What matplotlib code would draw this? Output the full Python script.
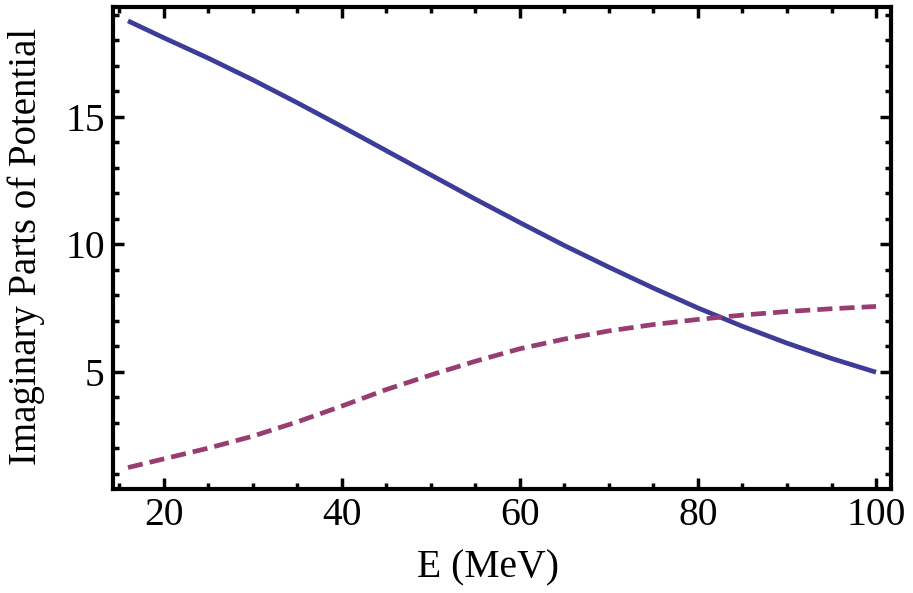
import numpy as np
import matplotlib.pyplot as plt
from matplotlib.ticker import MultipleLocator

plt.rcParams['font.family'] = ['Liberation Serif', 'DejaVu Serif']

# energies (MeV) and imaginary parts
energy = [16, 20, 25, 30, 35, 40, 45, 50, 55, 60, 65, 70, 75, 80, 85, 90, 95, 100]
w_volume = [18.76, 18.1, 17.3, 16.45, 15.55, 14.62, 13.67, 12.72, 11.77, 10.85,
            9.95, 9.1, 8.28, 7.5, 6.78, 6.12, 5.52, 4.98]
w_surface = [1.24, 1.58, 2.0, 2.47, 3.03, 3.65, 4.3, 4.87, 5.41, 5.9,
             6.28, 6.6, 6.85, 7.05, 7.22, 7.36, 7.47, 7.56]

fig = plt.figure(figsize=(9.13, 5.93), dpi=100)
ax = fig.add_axes([0.1238, 0.1754, 0.8521, 0.8126])

ax.plot(energy, w_volume, color='#3d3d99', lw=3.4, solid_capstyle='butt')
ax.plot(energy, w_surface, color='#993d71', lw=3.4, dashes=(3.2, 1.5),
        dash_capstyle='butt')

ax.set_xlim(14.32, 101.68)
ax.set_ylim(0.4, 19.3)

ax.xaxis.set_major_locator(MultipleLocator(20))
ax.xaxis.set_minor_locator(MultipleLocator(5))
ax.yaxis.set_major_locator(MultipleLocator(5))
ax.yaxis.set_minor_locator(MultipleLocator(1))

ax.tick_params(which='both', direction='in', top=True, right=True,
               labelsize=28.5, width=2.5, color='black')
ax.tick_params(which='major', length=8, pad=6)
ax.tick_params(which='minor', length=4.5)

for s in ax.spines.values():
    s.set_linewidth(3)

ax.set_xlabel('E (MeV)', fontsize=28.5)
ax.set_ylabel('Imaginary Parts of Potential', fontsize=28)
ax.xaxis.set_label_coords(0.482, -0.125)
ax.yaxis.set_label_coords(-0.088, 0.503)

fig.savefig('out.png', dpi=100)
